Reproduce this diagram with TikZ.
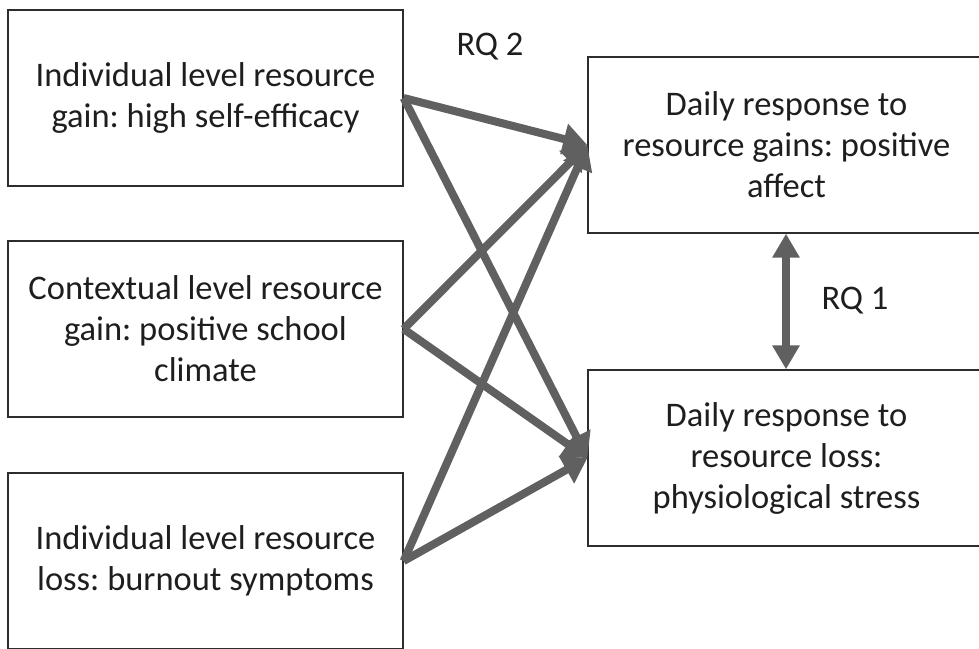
\documentclass[tikz,border=0pt]{standalone}
\usepackage{fontspec}
\setmainfont{Carlito}
\usetikzlibrary{arrows.meta,calc}
\frenchspacing
\definecolor{arrowgray}{RGB}{96,96,96}
\definecolor{boxline}{RGB}{45,45,45}
\definecolor{txt}{RGB}{30,30,30}
\tikzset{
  box/.style={draw=boxline,line width=1.3pt,minimum height=176pt,inner sep=0pt,align=center,
    font=\fontsize{34.5}{41}\selectfont,text=txt},
  lbox/.style={box,minimum width=395pt},
  rbox/.style={box,minimum width=397pt},
  conn/.style={draw=arrowgray,line width=8pt,-{Triangle[length=24pt,width=30pt]},shorten >=0pt},
  both/.style={draw=arrowgray,line width=8pt,{Triangle[length=24pt,width=26pt]}-{Triangle[length=24pt,width=26pt]}},
  lab/.style={font=\fontsize{34.5}{41}\selectfont,text=txt}
}
\begin{document}
\begin{tikzpicture}[x=1pt,y=-1pt]
\useasboundingbox (0,0) rectangle (979,648);
\begin{scope}
\clip (0,0) rectangle (979,648);
\node[lbox] (l1) at (205.5,98) {Individual level resource\\gain: high self-efficacy};
\node[lbox] (l2) at (205.5,329) {Contextual level resource\\gain: positive school\\climate};
\node[lbox] (l3) at (205.5,561) {Individual level resource\\loss: burnout symptoms};
\node[rbox] (r1) at (786.5,145) {Daily response to\\resource gains: positive\\affect};
\node[rbox] (r2) at (786.5,458) {Daily response to\\resource loss:\\physiological stress};
\node[lab] (q2) at (490,47) {RQ 2};
\node[lab] (q1) at (855,301) {RQ 1};
\coordinate (qx) at (786,0);
\draw[conn] (l1.east) -- (r1.west);
\draw[conn] (l1.east) -- (r2.west);
\draw[conn] (l2.east) -- (r1.west);
\draw[conn] (l2.east) -- (r2.west);
\draw[conn] (l3.east) -- (r1.west);
\draw[conn] (l3.east) -- (r2.west);
\draw[both] (r1.south -| qx) -- (r2.north -| qx);
\end{scope}
\end{tikzpicture}
\end{document}
